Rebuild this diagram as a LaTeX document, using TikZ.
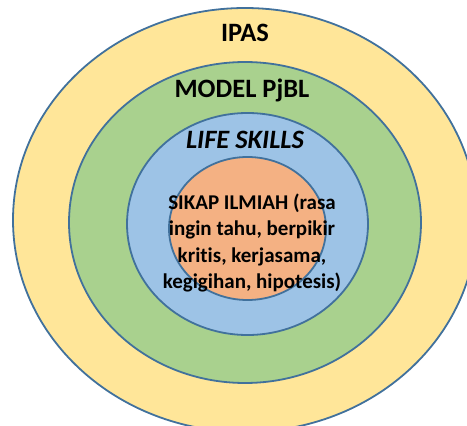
\documentclass[tikz,border=0pt]{standalone}
\usepackage{fontspec}
\setmainfont{Carlito}[Ligatures=NoCommon]
\usetikzlibrary{arrows, arrows.meta}
\definecolor{ringline}{HTML}{41719C}
\definecolor{ipasfill}{HTML}{FFE699}
\definecolor{pjblfill}{HTML}{A9D18E}
\definecolor{lifefill}{HTML}{9DC3E6}
\definecolor{sikapfill}{HTML}{F4B183}

\begin{document}
\begin{tikzpicture}[x=1pt,y=-1pt]
%\draw[step=10pt,gray,very thin] (0,0) grid (467,426); %background grid
\clip (0,0) rectangle (467,426);

\draw[ringline,line width=1.8pt,fill=ipasfill]  (245,220)   ellipse (232 and 212);
\draw[ringline,line width=1.8pt,fill=pjblfill]  (245,222.5) ellipse (176 and 160.5);
\draw[ringline,line width=1.8pt,fill=lifefill]  (247.5,224) ellipse (120.5 and 111);
\draw[ringline,line width=1.8pt,fill=sikapfill] (247.5,228.5) ellipse (78.5 and 71.5);

\node[font=\fontsize{26.5}{30}\selectfont\bfseries] (ipas)  at (245,33)  {IPAS};
\node[font=\fontsize{26.5}{30}\selectfont\bfseries] (pjbl)  at (242,90)  {MODEL PjBL};
\node[font=\fontsize{26.5}{30}\selectfont\bfseries\itshape] (life)  at (245,140) {LIFE SKILLS};
\node[align=center,font=\fontsize{21}{26.3}\selectfont\bfseries] (sikap) at (252,243)
  {\bfseries SIKAP ILMIAH (rasa\\ingin tahu, berpikir\\kritis, kerjasama,\\kegigihan, hipotesis)};

\end{tikzpicture}
\end{document}
